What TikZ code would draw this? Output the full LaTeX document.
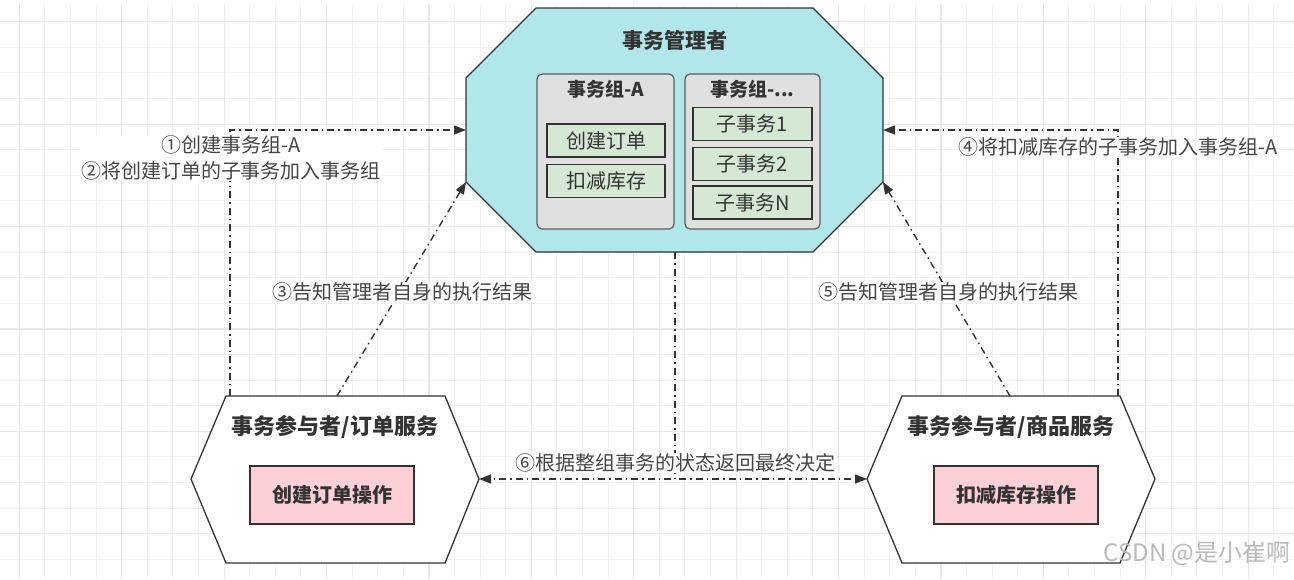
\documentclass[tikz,border=0pt]{standalone}
\usepackage{fontspec}
\setmainfont{Noto Sans CJK SC}
\usetikzlibrary{arrows.meta}
\definecolor{linegray}{HTML}{333333}
\definecolor{txtgray}{HTML}{333333}
\definecolor{labelgray}{HTML}{454545}
\definecolor{mgrfill}{HTML}{B1E6EB}
\definecolor{grpfill}{HTML}{E0E0E0}
\definecolor{subfill}{HTML}{D5E8D4}
\definecolor{opfill}{HTML}{FDCFD6}
\definecolor{gridminor}{HTML}{F1F1F1}
\definecolor{gridmajor}{HTML}{E8E8E8}
\begin{document}
\begin{tikzpicture}[x=1pt,y=-1pt,
  shapeline/.style={draw=linegray, line width=1.3pt, line join=miter},
  grpbox/.style={draw=linegray!80, fill=grpfill, line width=1.2pt, rounded corners=5pt, minimum width=137pt, minimum height=155pt, inner sep=0pt},
  subbox/.style={draw=linegray, fill=subfill, line width=1.2pt, minimum width=118pt, minimum height=33pt, inner sep=0pt, font=\fontsize{20}{24}\selectfont, text=txtgray},
  opbox/.style={draw=linegray, fill=opfill, line width=1.2pt, minimum width=164pt, minimum height=58pt, inner sep=0pt, font=\bfseries\fontsize{20}{24}\selectfont, text=txtgray},
  titletxt/.style={font=\bfseries\fontsize{21}{24}\selectfont, text=txtgray, inner sep=0pt},
  parttitle/.style={font=\bfseries\fontsize{22}{24}\selectfont, text=txtgray, inner sep=0pt},
  grptitle/.style={font=\bfseries\fontsize{19}{22}\selectfont, text=txtgray, inner sep=0pt},
  conn/.style={draw=linegray, line width=1.4pt, dash pattern=on 7pt off 4pt on 1.5pt off 4pt, -{Triangle[length=12pt,width=9pt]}},
  lbl/.style={font=\fontsize{20}{26}\selectfont, text=labelgray, fill=white, inner sep=1pt, align=center},
  wm/.style={font=\fontsize{24}{26}\selectfont, text=black!27, inner sep=0pt}
]
\useasboundingbox (0,0) rectangle (1294,579);
\fill[white] (0,0) rectangle (1294,579);
% grid
\foreach \i in {0,...,49} {\pgfmathsetmacro\xx{19.3+25.6*\i}\draw[gridminor, line width=1pt] (\xx,4) -- (\xx,579);}
\foreach \j in {0,...,21} {\pgfmathsetmacro\yy{21.7+25.6*\j}\draw[gridminor, line width=1pt] (0,\yy) -- (1294,\yy);}
\foreach \i in {0,...,12} {\pgfmathsetmacro\xx{19.3+102.4*\i}\draw[gridmajor, line width=1.2pt] (\xx,4) -- (\xx,579);}
\foreach \j in {0,...,5} {\pgfmathsetmacro\yy{21.7+102.4*\j}\draw[gridmajor, line width=1.2pt] (0,\yy) -- (1294,\yy);}

% manager octagon
\draw[shapeline, fill=mgrfill] (536,8) -- (813,8) -- (883,78) -- (883,182) -- (813,252) -- (536,252) -- (466,182) -- (466,78) -- cycle;
\coordinate (mL) at (466,130);
\coordinate (mR) at (883,130);
\coordinate (mBL) at (466,182);
\coordinate (mBR) at (883,182);
\coordinate (mB) at (675,252);
\node[titletxt] (mgrtitle) at (675,40) {事务管理者};

\node[grpbox] (grpA) at (605.5,151.5) {};
\node[grptitle] (grpAt) at (605.5,89) {事务组-A};
\node[subbox] (sA1) at (606,140.5) {创建订单};
\node[subbox] (sA2) at (606,181) {扣减库存};

\node[grpbox, minimum width=135pt] (grpN) at (752.5,151.5) {};
\node[grptitle] (grpNt) at (752.5,89) {事务组-...};
\node[subbox, minimum width=119pt] (sN1) at (752.5,124) {子事务1};
\node[subbox, minimum width=119pt] (sN2) at (752.5,164) {子事务2};
\node[subbox, minimum width=119pt] (sN3) at (752.5,202.5) {子事务N};

% left participant
\draw[shapeline, fill=white] (191,479) -- (226,396) -- (445,396) -- (479,479) -- (445,563) -- (226,563) -- cycle;
\coordinate (lT1) at (230,396);
\coordinate (lT2) at (337,396);
\coordinate (lR) at (479,479);
\node[parttitle] (ltitle) at (335,427) {事务参与者/订单服务};
\node[opbox] (lop) at (332,495) {创建订单操作};

% right participant
\draw[shapeline, fill=white] (867,479) -- (902,396) -- (1120,396) -- (1155,479) -- (1120,563) -- (902,563) -- cycle;
\coordinate (rT1) at (1118,396);
\coordinate (rT2) at (1010,396);
\coordinate (rL) at (867,479);
\node[parttitle] (rtitle) at (1011,427) {事务参与者/商品服务};
\node[opbox] (rop) at (1016,495) {扣减库存操作};

% connectors
\draw[conn] (lT1) |- (mL);
\draw[conn] (lT2) -- (mBL);
\draw[conn] (rT1) |- (mR);
\draw[conn] (rT2) -- (mBR);
\draw[conn] (mB) |- (lR);
\draw[conn] (mB) |- (rL);

% labels
\node[lbl] (l12) at (231,158) {①创建事务组-A\\②将创建订单的子事务加入事务组};
\node[lbl] (l3) at (402,292) {③告知管理者自身的执行结果};
\node[lbl] (l4) at (1118,147) {④将扣减库存的子事务加入事务组-A};
\node[lbl] (l5) at (948,292) {⑤告知管理者自身的执行结果};
\node[lbl] (l6) at (675,463) {⑥根据整组事务的状态返回最终决定};

\node[wm] (wmk) at (1197,553) {CSDN @是小崔啊};
\end{tikzpicture}
\end{document}
